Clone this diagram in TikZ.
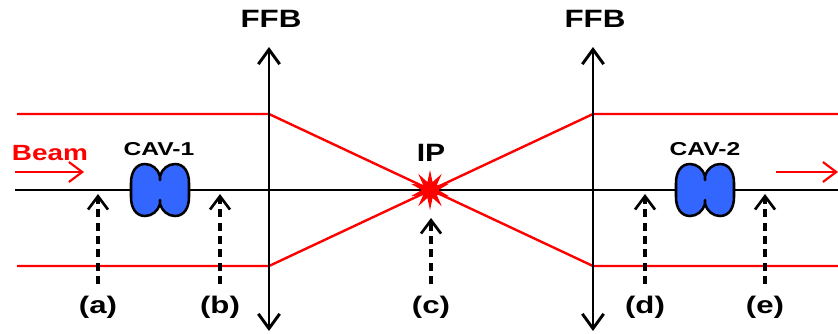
\documentclass[tikz,border=0pt]{standalone}
\usepackage{fontspec}
\setmainfont{Liberation Sans}
\usetikzlibrary{arrows.meta,shapes.geometric}
\definecolor{cavblue}{RGB}{51,102,255}
\tikzset{
  x=0.75pt,y=-0.75pt,
  axisline/.style={black,line width=1.8pt},
  beamline/.style={red,line width=1.8pt},
  openhead/.style={-{Straight Barb[length=10pt,width=15pt,line width=2pt]}},
  bothheads/.style={{Straight Barb[length=11pt,width=16pt,line width=2.2pt]}-{Straight Barb[length=11pt,width=16pt,line width=2.2pt]},black,line width=2.2pt},
  redhead/.style={-{Straight Barb[length=10pt,width=15pt,line width=1.6pt]},red,line width=1.6pt},
  probe/.style={black,line width=2.4pt,dash pattern=on 6pt off 4pt,openhead},
  bigtxt/.style={font=\bfseries\fontsize{18.8}{20}\selectfont,xscale=1.25,inner sep=0pt},
  beamtxt/.style={font=\bfseries\fontsize{16.5}{18}\selectfont,xscale=1.27,inner sep=0pt,red},
  cavtxt/.style={font=\bfseries\fontsize{14}{16}\selectfont,xscale=1.32,inner sep=0pt},
  iptxt/.style={font=\bfseries\fontsize{18.8}{20}\selectfont,xscale=1.2,inner sep=0pt},
  lbl/.style={font=\bfseries\fontsize{18}{20}\selectfont,xscale=1.3,inner sep=0pt},
  cavity/.pic={
    \draw[fill=cavblue,draw=black,line width=1.9pt,line join=round]
      (0,-10) -- (0,-14) .. controls (2,-21) and (8,-26) .. (15,-26)
      .. controls (24,-26) and (29,-18) .. (29,-7)
      -- (29,7) .. controls (29,18) and (24,26) .. (15,26)
      .. controls (8,26) and (2,21) .. (0,14) -- (0,10) -- (0,14)
      .. controls (-2,21) and (-8,26) .. (-15,26)
      .. controls (-24,26) and (-29,18) .. (-29,7)
      -- (-29,-7) .. controls (-29,-18) and (-24,-26) .. (-15,-26)
      .. controls (-8,-26) and (-2,-21) .. (0,-14) -- cycle;
  }
}
\begin{document}
\begin{tikzpicture}
\useasboundingbox (0,0) rectangle (838,333);
% named points
\coordinate (axL) at (15,190);
\coordinate (axR) at (838,190);
\coordinate (ip) at (430,190);
\coordinate (f1t) at (269,47);
\coordinate (f1b) at (269,331);
\coordinate (f2t) at (593,47);
\coordinate (f2b) at (593,331);
\coordinate (t1) at (269,114);
\coordinate (b1) at (269,266);
\coordinate (t2) at (593,114);
\coordinate (b2) at (593,266);
\coordinate (tl) at (17,114);
\coordinate (bl) at (17,266);
\coordinate (tr) at (838,114);
\coordinate (br) at (838,266);
\coordinate (ba1) at (15,172);
\coordinate (ba2) at (84,172);
\coordinate (ba3) at (776,172);
\coordinate (ba4) at (838,172);
% axis
\draw[axisline] (axL) -- (axR);
% beam envelope
\draw[beamline] (tl) -- (t1) -- (b2) -- (br);
\draw[beamline] (bl) -- (b1) -- (t2) -- (tr);
% FFB lenses
\draw[bothheads] (f1t) -- (f1b);
\draw[bothheads] (f2t) -- (f2b);
% cavities
\pic at (160,190) {cavity};
\pic at (705,190) {cavity};
% IP star
\node[star,star points=10,star point ratio=2.4,minimum size=30pt,inner sep=0pt,fill=red,draw=none] (star) at (ip) {};
% beam arrows
\draw[redhead] (ba1) -- (ba2);
\draw[redhead] (ba3) -- (ba4);
% labels
\node[bigtxt] (ffb1) at (271,19) {FFB};
\node[bigtxt] (ffb2) at (595,19) {FFB};
\node[beamtxt] (beam) at (50,153) {Beam};
\node[cavtxt] (cav1) at (159,149) {CAV-1};
\node[cavtxt] (cav2) at (705,149) {CAV-2};
\node[iptxt] (iplab) at (431,153) {IP};
\node[lbl] (a) at (98,307) {(a)};
\node[lbl] (b) at (220,307) {(b)};
\node[lbl] (c) at (431,307) {(c)};
\node[lbl] (d) at (645,307) {(d)};
\node[lbl] (e) at (765,307) {(e)};
% probes
\draw[probe] (a.north |- 0,284) -- (a.north |- 0,194);
\draw[probe] (b.north |- 0,284) -- (b.north |- 0,194);
\draw[probe] (c.north |- 0,284) -- (c.north |- 0,218);
\draw[probe] (d.north |- 0,284) -- (d.north |- 0,194);
\draw[probe] (e.north |- 0,284) -- (e.north |- 0,194);
\end{tikzpicture}
\end{document}
